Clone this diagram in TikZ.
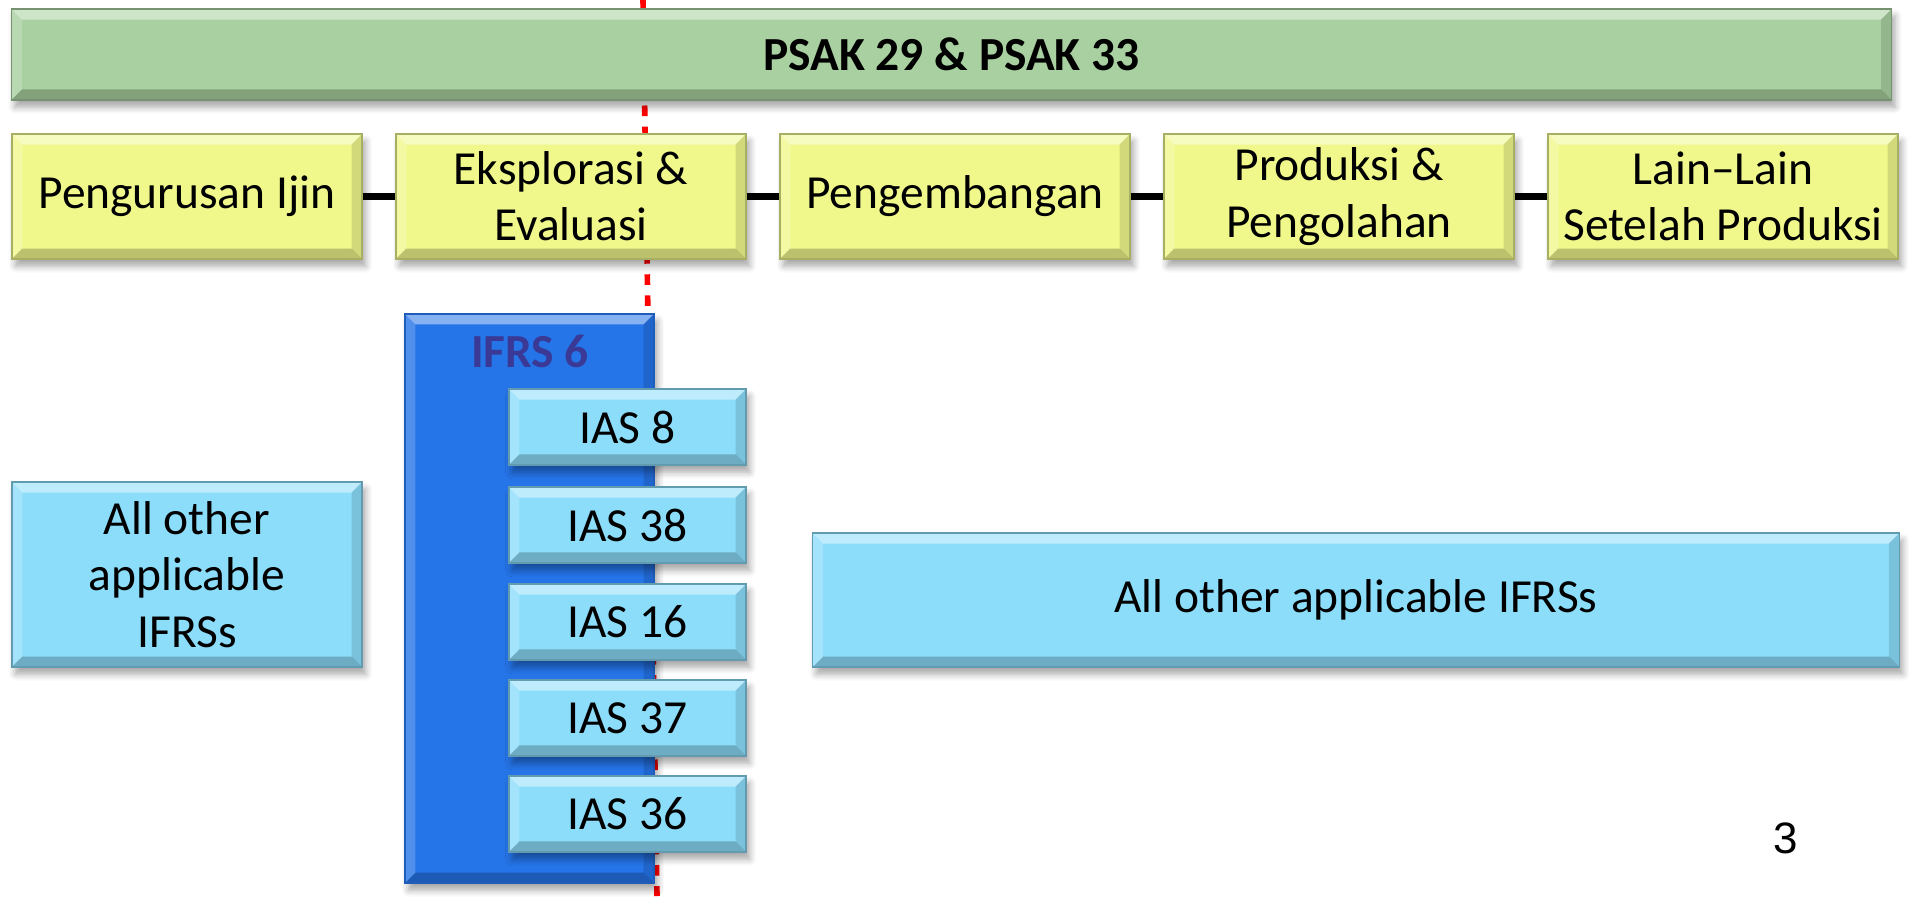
\documentclass[tikz,border=0pt]{standalone}
\usepackage{fontspec}
\setmainfont{Carlito}
\newfontfamily\pagefont{Liberation Sans}
\usetikzlibrary{shadows.blur}
\definecolor{barGreen}{RGB}{168,208,160}
\definecolor{stageYellow}{RGB}{240,248,140}
\definecolor{stdBlue}{RGB}{140,221,250}
\definecolor{ifrsBlue}{RGB}{37,116,232}
\definecolor{ifrsText}{RGB}{58,58,150}
\newcommand{\bevw}{3pt}
\tikzset{
    bevel/.style = {path picture={
        \coordinate (nw) at (path picture bounding box.north west);
        \coordinate (ne) at (path picture bounding box.north east);
        \coordinate (sw) at (path picture bounding box.south west);
        \coordinate (se) at (path picture bounding box.south east);
        \fill[white,opacity=.45] (nw) -- (ne) -- ([xshift=-\bevw,yshift=-\bevw]ne) -- ([xshift=\bevw,yshift=-\bevw]nw) -- cycle;
        \fill[white,opacity=.2] (nw) -- ([xshift=\bevw,yshift=-\bevw]nw) -- ([xshift=\bevw,yshift=\bevw]sw) -- (sw) -- cycle;
        \fill[black,opacity=.12] (ne) -- ([xshift=-\bevw,yshift=-\bevw]ne) -- ([xshift=-\bevw,yshift=\bevw]se) -- (se) -- cycle;
        \fill[black,opacity=.22] (sw) -- ([xshift=\bevw,yshift=\bevw]sw) -- ([xshift=-\bevw,yshift=\bevw]se) -- (se) -- cycle;
    }},
    softshadow/.style = {blur shadow={shadow xshift=1pt,shadow yshift=-2pt,shadow opacity=35,shadow blur steps=5}},
    box/.style = {rectangle, bevel, softshadow, align=center, inner sep=2pt, font=\fontsize{13.5}{16}\selectfont},
    bar/.style = {box, fill=barGreen, draw=barGreen!70!black, minimum width=18.79cm, minimum height=0.91cm, font=\fontsize{13.5}{16}\selectfont\bfseries},
    stage/.style = {box, fill=stageYellow, draw=stageYellow!70!black, minimum width=3.5cm, minimum height=1.25cm},
    std/.style = {box, fill=stdBlue, draw=stdBlue!70!black},
    ias/.style = {std, minimum width=2.37cm, minimum height=0.76cm},
    ifrs/.style = {rectangle, bevel, softshadow, fill=ifrsBlue, draw=ifrsBlue!80!black, minimum width=2.49cm, minimum height=5.69cm},
    link/.style = {black, line width=2pt},
    cutline/.style = {red, line width=1.6pt, dash pattern=on 3pt off 3pt}
}

\begin{document}
\begin{tikzpicture}[x=0.01cm,y=-0.01cm]
\useasboundingbox (0,0) rectangle (1909,896);
% stage boundary, behind everything
\coordinate (cuttop) at (643,0);
\coordinate (cutbot) at (657,896);
\draw[cutline] (cuttop) -- (cutbot);
%
\node[bar] at (951.5,54.5) (psak) {PSAK 29 \& PSAK 33};
%
\node[stage] at (187,196.5) (s1) {Pengurusan Ijin};
\node[stage] at (571,196.5) (s2) {Eksplorasi \&\\Evaluasi};
\node[stage] at (955,196.5) (s3) {Pengembangan};
\node[stage] at (1339,196.5) (s4) {Produksi \&\\Pengolahan};
\node[stage] at (1723,196.5) (s5) {Lain–Lain\\Setelah Produksi};
%
\draw[link] (s1) -- (s2);
\draw[link] (s2) -- (s3);
\draw[link] (s3) -- (s4);
\draw[link] (s4) -- (s5);
%
\node[ifrs] at (529.5,598.5) (ifrs) {};
\node[font=\fontsize{13.5}{16}\selectfont\bfseries, text=ifrsText] at (530,351) (ifrslbl) {IFRS 6};
\node[ias] at (627.5,427) (ias8) {IAS 8};
\node[ias] at (627.5,525) (ias38) {IAS 38};
\node[ias] at (627.5,622) (ias16) {IAS 16};
\node[ias] at (627.5,718) (ias37) {IAS 37};
\node[ias] at (627.5,814) (ias36) {IAS 36};
%
\node[std, minimum width=3.5cm, minimum height=1.85cm] at (187,574.5) (otherl) {All other\\applicable\\IFRSs};
\node[std, minimum width=10.86cm, minimum height=1.34cm] at (1356,600) (otherr) {All other applicable IFRSs};
%
\node[font=\pagefont\fontsize{12.5}{15}\selectfont] at (1786,838) (pg) {3};

\end{tikzpicture}
\end{document}
